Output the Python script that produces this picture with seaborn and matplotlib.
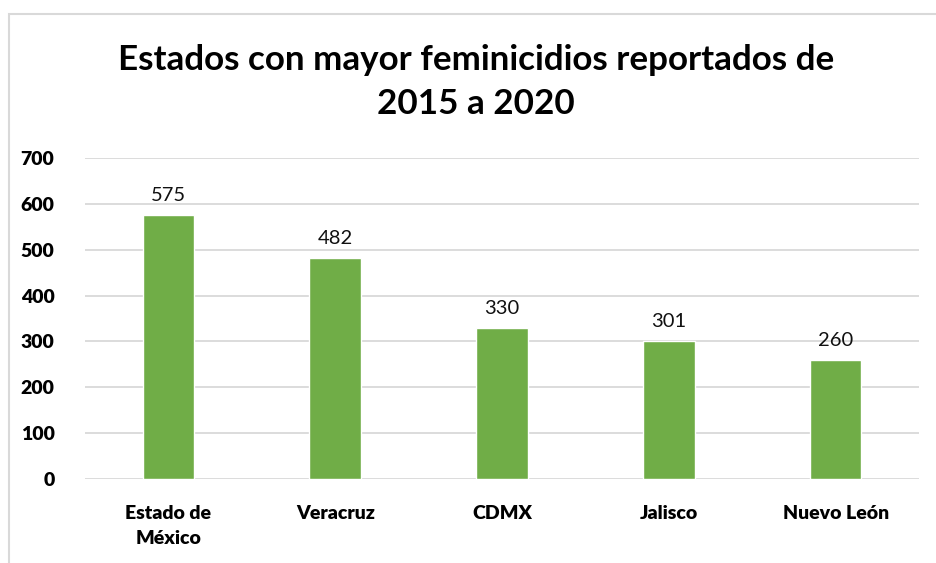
import matplotlib
matplotlib.use("Agg")
import matplotlib.pyplot as plt
import seaborn as sns
import pandas as pd
from matplotlib.patches import Rectangle

estados = ["Estado de\nMéxico", "Veracruz", "CDMX", "Jalisco", "Nuevo León"]
feminicidios = [575, 482, 330, 301, 260]
yticks = [0, 100, 200, 300, 400, 500, 600, 700]
titulo = "Estados con mayor feminicidios reportados de\n2015 a 2020"

sns.set_theme(style="white")
plt.rcParams["font.family"] = ["Lato", "DejaVu Sans"]

df = pd.DataFrame({"estado": estados, "valor": feminicidios})

fig = plt.figure(figsize=(9.36, 5.63), dpi=100)
fig.patch.set_facecolor("white")
ax = fig.add_axes([85/936, 1-479/563, (919-85)/936, (479-158)/563])

sns.barplot(data=df, x="estado", y="valor", color="#70AD47", width=0.31,
            saturation=1, ax=ax, zorder=3)

ax.set_ylim(0, 700)
ax.set_xlim(-0.5, len(estados) - 0.5)
ax.set_yticks(yticks)
ax.set_yticklabels([str(t) for t in yticks], fontweight="heavy",
                   fontsize=14, color="#000000")
ax.set_xticks(range(len(estados)))
ax.set_xticklabels(estados, fontweight="heavy", fontsize=14,
                   color="#000000", linespacing=1.55)
ax.yaxis.grid(True, color="#D9D9D9", linewidth=1.3, zorder=0)
ax.xaxis.grid(False)
for s in ax.spines.values():
    s.set_visible(False)
ax.set_xlabel("")
ax.set_ylabel("")
ax.tick_params(axis="both", length=0)
ax.tick_params(axis="y", pad=22)
ax.tick_params(axis="x", pad=19)

for cont in ax.containers:
    ax.bar_label(cont, labels=[str(v) for v in feminicidios], padding=8,
                 fontsize=14.5, color="#111111")

fig.text(476/936, 1-82/563, titulo, ha="center", va="center",
         fontsize=25.2, fontweight="bold", color="#000000", linespacing=1.5)

fig.patches.append(Rectangle((9/936, -0.1), 1.2, 1-14/563+0.1,
                             transform=fig.transFigure, fill=False,
                             edgecolor="#D9D9D9", linewidth=1.5))

fig.savefig("out.png", dpi=100)
